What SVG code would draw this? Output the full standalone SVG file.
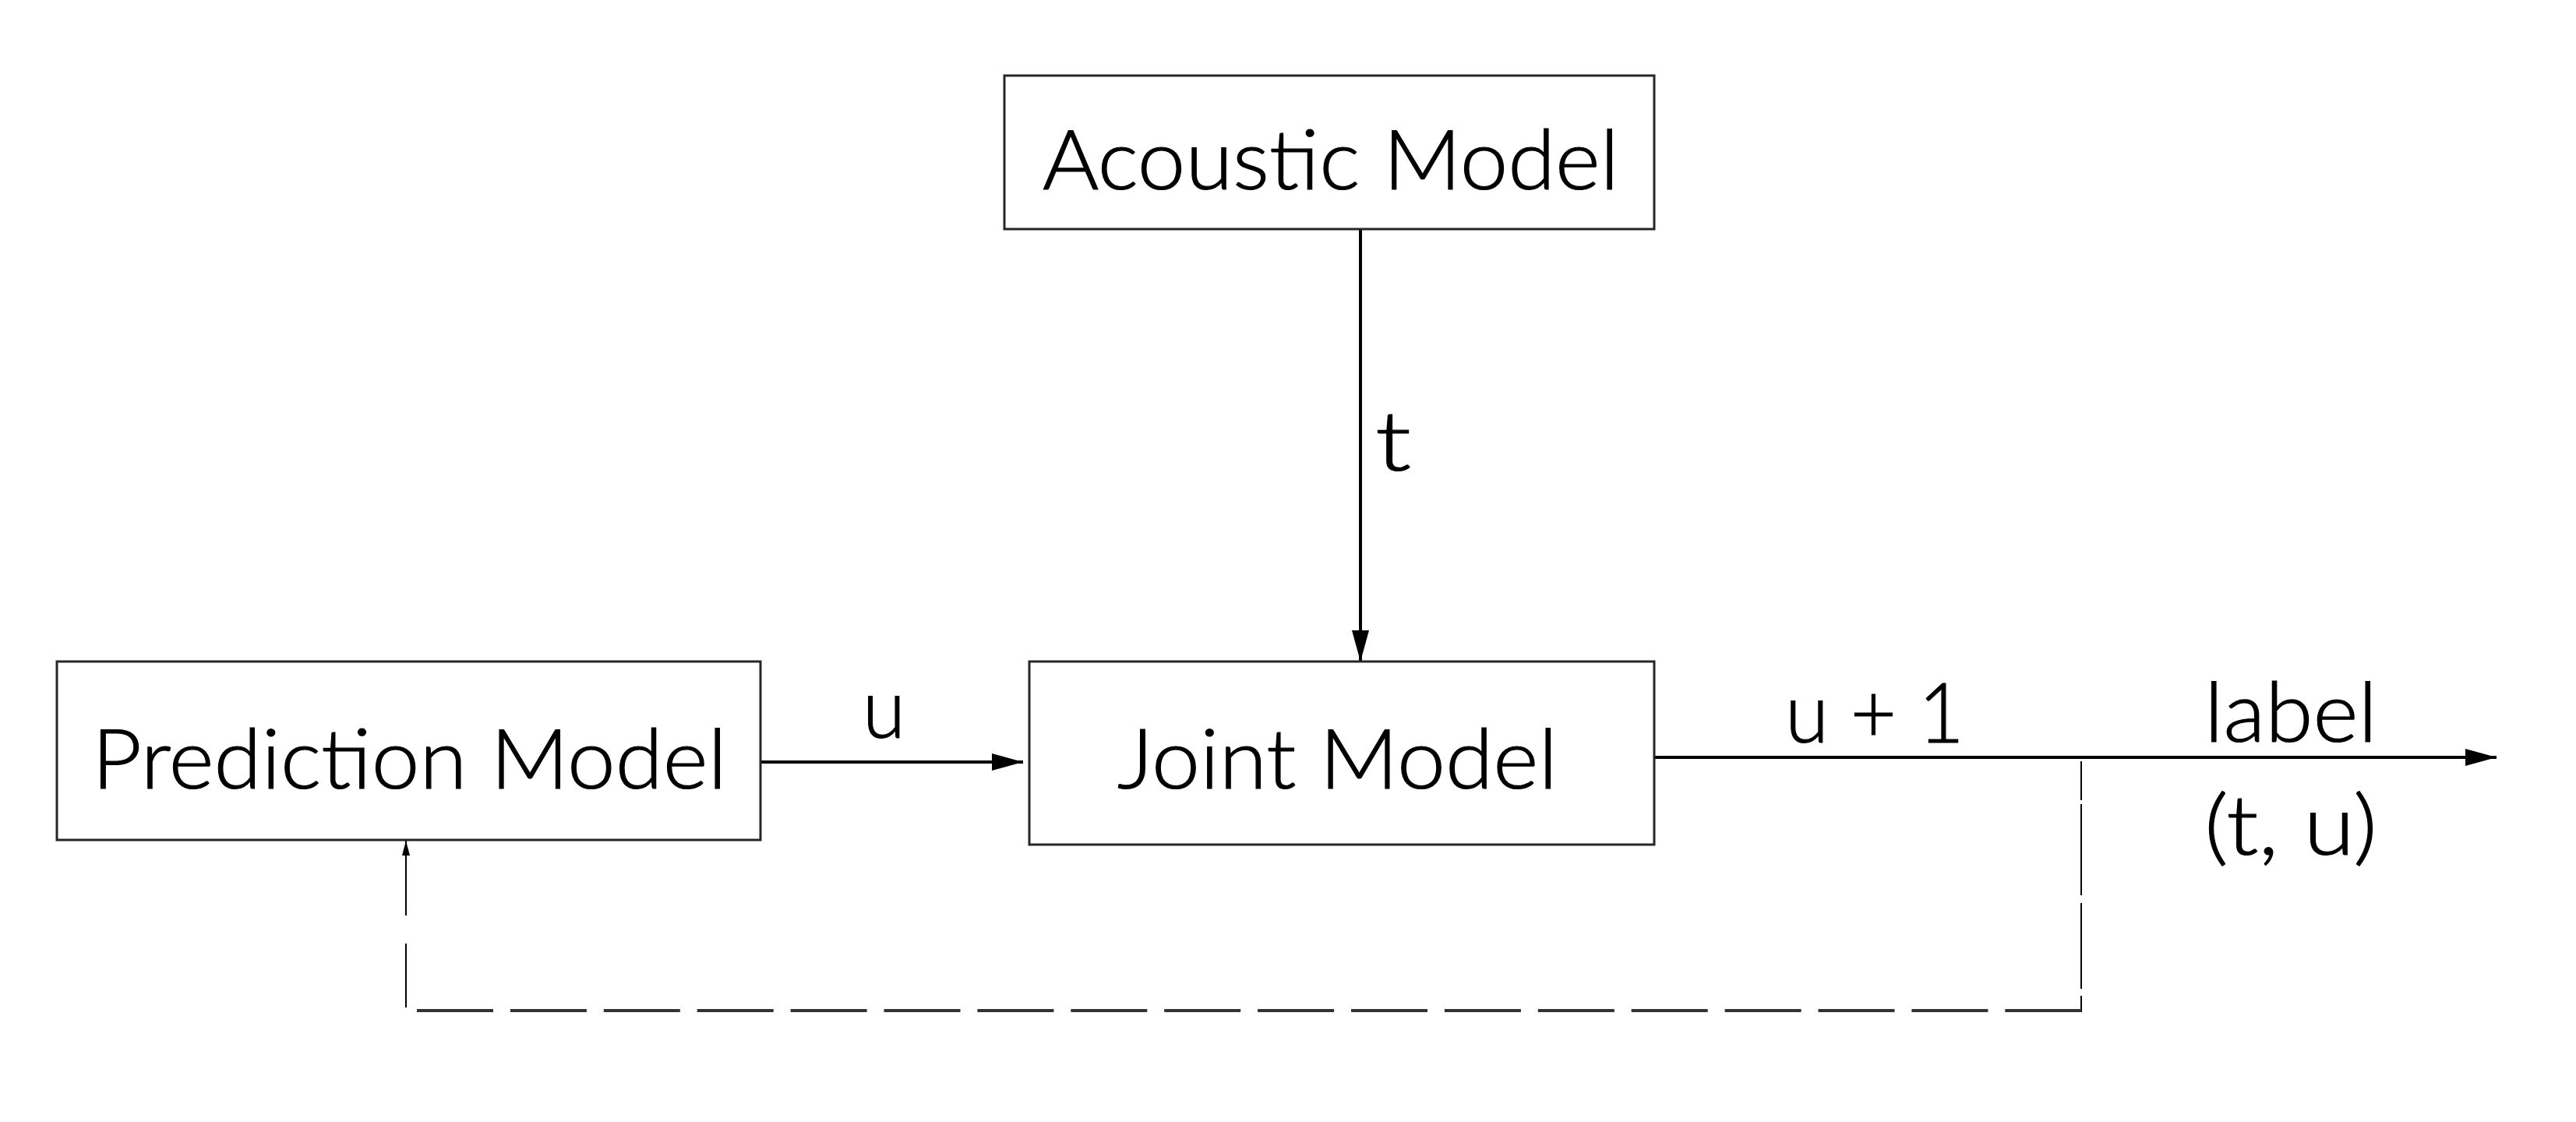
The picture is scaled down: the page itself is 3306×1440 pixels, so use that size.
<svg xmlns="http://www.w3.org/2000/svg" width="3306" height="1440" viewBox="0 0 3306 1440">
<style>
.box{fill:#fff;stroke:#262626;stroke-width:3}
.txt{font-family:Lato,"Open Sans","Liberation Sans",sans-serif;font-weight:300;font-size:106px;fill:#000;stroke:#000;stroke-width:1.2}
.conn{stroke:#000;stroke-width:4;fill:none}
.thin{stroke:#000;stroke-width:2;fill:none}
.dash{stroke:#333;stroke-width:4;fill:none}
</style>
<defs>
<marker id="arr" markerUnits="userSpaceOnUse" markerWidth="40" markerHeight="22" refX="40" refY="11" orient="auto">
<path d="M0,0 L40,11 L0,22 z" fill="#000"/>
</marker>
<marker id="arrs" markerUnits="userSpaceOnUse" markerWidth="19" markerHeight="10" refX="19" refY="5" orient="auto">
<path d="M0,0 L19,5 L0,10 z" fill="#000"/>
</marker>
</defs>
<rect width="3306" height="1440" fill="#fff"/>
<g id="connectors">
<line class="conn" x1="1746" y1="295" x2="1746" y2="849" marker-end="url(#arr)"/>
<line class="conn" x1="977" y1="978" x2="1313" y2="978" marker-end="url(#arr)"/>
<line class="conn" x1="2123" y1="972" x2="3204" y2="972" marker-end="url(#arr)"/>
<line class="thin" x1="2671" y1="977" x2="2671" y2="1299" stroke-dasharray="50 5 117 10 110 9 40"/>
<line class="dash" x1="535" y1="1297" x2="2671" y2="1297" stroke-dasharray="98 21.9"/>
<line class="thin" x1="521" y1="1293" x2="521" y2="1079" stroke-dasharray="82 36 300" marker-end="url(#arrs)"/>
</g>
<g id="acoustic">
<rect class="box" x="1289" y="97" width="834" height="197"/>
<text class="txt" x="1338" y="243" textLength="740" lengthAdjust="spacingAndGlyphs">Acoustic Model</text>
</g>
<g id="prediction">
<rect class="box" x="73" y="849" width="903" height="229"/>
<text class="txt" x="118" y="1012" textLength="815" lengthAdjust="spacingAndGlyphs">Prediction Model</text>
</g>
<g id="joint">
<rect class="box" x="1321" y="849" width="802" height="235"/>
<text class="txt" x="1434" y="1012" textLength="565" lengthAdjust="spacingAndGlyphs">Joint Model</text>
</g>
<g id="labels">
<text class="txt" x="1765" y="604" textLength="46" lengthAdjust="spacingAndGlyphs">t</text>
<text class="txt" x="1107" y="947" textLength="55" lengthAdjust="spacingAndGlyphs">u</text>
<text class="txt" x="2291" y="953" textLength="230" lengthAdjust="spacingAndGlyphs">u + 1</text>
<text class="txt" x="2829" y="952" textLength="222" lengthAdjust="spacingAndGlyphs">label</text>
<text class="txt" x="2829" y="1097" textLength="222" lengthAdjust="spacingAndGlyphs">(t, u)</text>
</g>
</svg>
